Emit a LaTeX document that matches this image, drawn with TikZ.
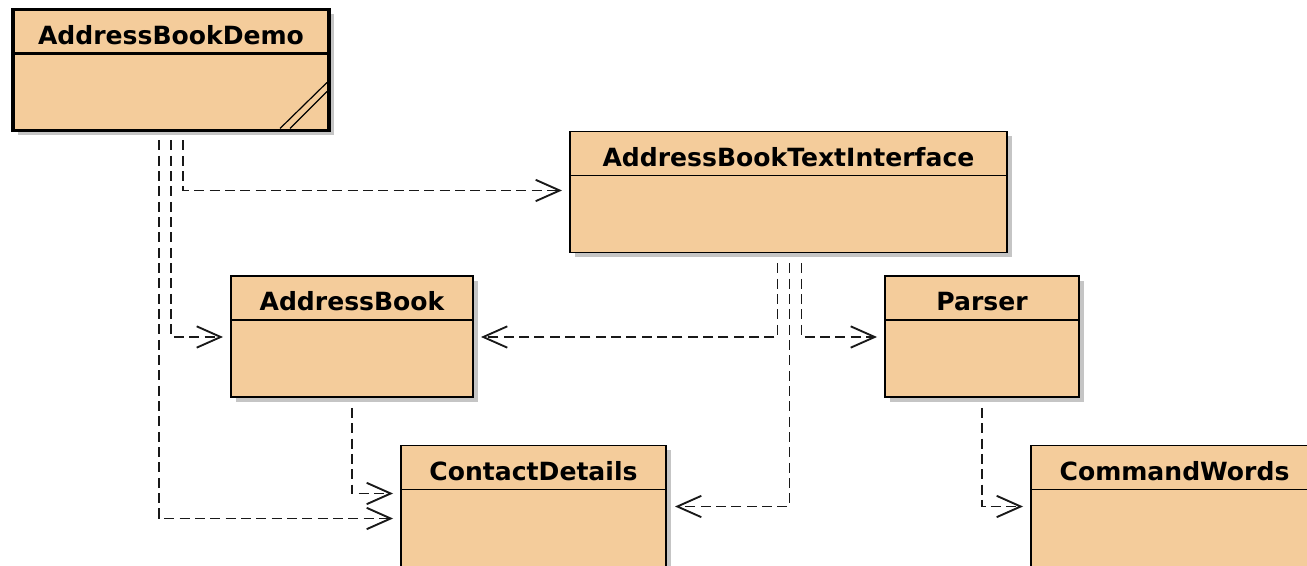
\documentclass[tikz,border=0pt]{standalone}
\usepackage{fontspec}
\setmainfont{DejaVu Sans}
\usepackage{tikz}
\usepackage{xcolor}
\usetikzlibrary{arrows.meta,calc,positioning,shadows}
\definecolor{classfill}{RGB}{244,204,155}
\definecolor{shadowgray}{RGB}{140,140,140}

\begin{document}
\begin{tikzpicture}[x=0.75pt,y=-0.75pt]
    \tikzstyle{classhead}=[rectangle,draw,fill=classfill,line width=1.4pt,%
    outer sep=0pt,minimum height=33pt,%
    font=\fontsize{18.8}{22}\selectfont\bfseries,text height=19.5pt,text depth=0pt,%
    drop shadow={shadow xshift=3.5pt,shadow yshift=-3.5pt,fill=shadowgray}] %
    \tikzstyle{classbody}=[classhead,minimum height=57.75pt] %
    \tikzstyle{mainclass}=[line width=2.6pt] %
    \tikzstyle{dep}=[draw=black!90,line width=1.4pt,dash pattern=on 7.5pt off 4pt,%
    -{Straight Barb[length=18pt,width=16pt]}] %

    \path[use as bounding box,fill=white] (0,0) rectangle (1307,566);

    \node[classhead,mainclass,minimum width=237pt] (ABD) at (171,31.5) {AddressBookDemo};
    \node[classbody,mainclass,minimum width=237pt] (ABDb) [below=0pt of ABD] {};

    \node[classhead,minimum width=327.75pt] (ATI) at (788.5,153.5) {AddressBookTextInterface};
    \node[classbody,minimum width=327.75pt] (ATIb) [below=0pt of ATI] {};

    \node[classhead,minimum width=181.5pt] (AB) at (352,298) {AddressBook};
    \node[classbody,minimum width=181.5pt] (ABb) [below=0pt of AB] {};

    \node[classhead,minimum width=145.5pt] (P) at (982,298) {Parser};
    \node[classbody,minimum width=145.5pt] (Pb) [below=0pt of P] {};

    \node[classhead,minimum width=198.75pt] (CD) at (533.5,467.5) {ContactDetails};
    \node[classbody,minimum width=198.75pt] (CDb) [below=0pt of CD] {};

    \node[classhead,minimum width=215.25pt] (CW) at (1174.5,467.5) {CommandWords};
    \node[classbody,minimum width=215.25pt] (CWb) [below=0pt of CW] {};

    % stripes of the main class
    \draw[line width=0.9pt] ($(ABDb.south east)+(-49,-2)$) -- ($(ABDb.south east)+(-2,-48)$);
    \draw[line width=0.9pt] ($(ABDb.south east)+(-39,-2)$) -- ($(ABDb.south east)+(-2,-39)$);

    \draw[dep] ($(ABDb.south)+(12,10)$) |- ($(ATIb.north west)+(-8,15)$);
    \draw[dep] ($(ABDb.south)+(0,10)$) |- ($(ABb.north west)+(-8,17)$);
    \draw[dep] ($(ABDb.south)+(-12,10)$) |- ($(CDb.north west)+(-8,29)$);

    \draw[dep] ($(ATIb.south)+(-11,11)$) |- ($(ABb.north east)+(8,17)$);
    \draw[dep] ($(ATIb.south)+(1,11)$) |- ($(CDb.north east)+(9,17)$);
    \draw[dep] ($(ATIb.south)+(13,11)$) |- ($(Pb.north west)+(-8,17)$);

    \draw[dep] ($(ABb.south)+(0,11)$) |- ($(CDb.north west)+(-8,4)$);
    \draw[dep] ($(Pb.south)+(0,11)$) |- ($(CWb.north west)+(-8,17)$);
\end{tikzpicture}
\end{document}
